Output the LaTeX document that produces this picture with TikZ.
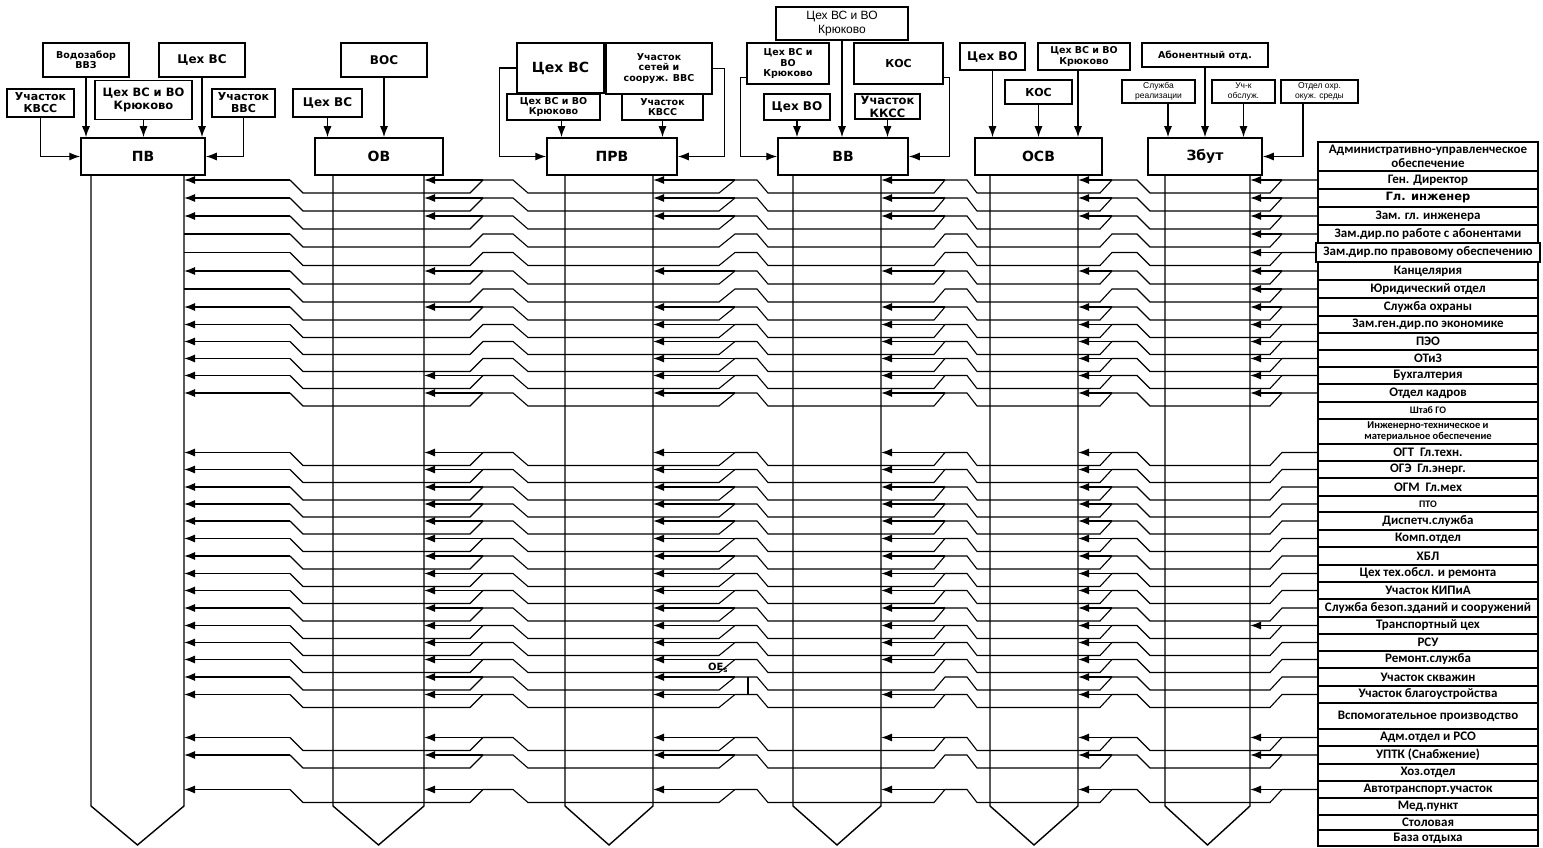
\documentclass[tikz,border=0pt]{standalone}
\usepackage{fontspec}
\setmainfont{DejaVu Sans}
\newfontfamily\listfont{Carlito}[UprightFont={Carlito}, BoldFont={Carlito Bold}]
\newfontfamily\arialfont{Liberation Sans}
\usetikzlibrary{arrows.meta}

\begin{document}
\begin{tikzpicture}[x=1pt, y=-1pt,
    box/.style={draw, line width=1.5pt, inner sep=0pt, align=center, font=\bfseries\fontsize{11}{12}\selectfont},
    small/.style={font=\bfseries\fontsize{9.5}{10.5}\selectfont},
    thin/.style={font=\arialfont\fontsize{8.5}{9.5}\selectfont},
    head/.style={box, minimum height=37pt, font=\bfseries\fontsize{14}{16}\selectfont},
    cell/.style={draw, line width=1.2pt, minimum width=220pt, inner sep=0pt, align=center, font=\listfont\bfseries\fontsize{13}{13.5}\selectfont},
    arr/.style={line width=1.3pt, -{Latex[length=11pt,width=8pt]}},
    wire/.style={line width=1.1pt},
    col/.style={line width=1.4pt}
]
\useasboundingbox (0,0) rectangle (1543,848);

% Main units
\node[head, minimum width=124pt] (pv) at (143,156.5) {ПВ};
\node[head, minimum width=128pt] (ov) at (379,156.5) {ОВ};
\node[head, minimum width=130pt] (prv) at (612,156.5) {ПРВ};
\node[head, minimum width=130pt] (vv) at (843,156.5) {ВВ};
\node[head, minimum width=127pt] (osv) at (1038.5,156.5) {ОСВ};
\node[head, minimum width=114pt] (zbut) at (1205,156.5) {Збут};

% Unit bodies
\draw[col] (91,175) -- (91,806) -- (137.5,845) -- (184,806) -- (184,175);
\draw[col] (333,175) -- (333,806) -- (378.5,845) -- (424,806) -- (424,175);
\draw[col] (565,175) -- (565,806) -- (609,845) -- (653,806) -- (653,175);
\draw[col] (793,175) -- (793,806) -- (837,845) -- (881,806) -- (881,175);
\draw[col] (990,175) -- (990,806) -- (1034,845) -- (1078,806) -- (1078,175);
\draw[col] (1165,175) -- (1165,806) -- (1207.5,845) -- (1250,806) -- (1250,175);

% ПВ
\node[box, small, minimum width=86pt, minimum height=34pt] (vzb) at (86,60) {Водозабор\\ВВЗ};
\node[box, minimum width=86pt, minimum height=34pt, font=\bfseries\fontsize{12}{13}\selectfont] (cvs1) at (202,60) {Цех ВС};
\node[box, minimum width=67pt, minimum height=28pt] (kvss1) at (40.5,103) {Участок\\КВСС};
\node[box, minimum width=97pt, minimum height=39pt, font=\bfseries\fontsize{11.5}{13}\selectfont] (kr1) at (143.5,100) {Цех ВС и ВО\\Крюково};
\node[box, minimum width=63pt, minimum height=28pt] (vvs1) at (243.5,103) {Участок\\ВВС};
\draw[arr] (vzb.south) -- (vzb.south |- pv.north);
\draw[arr] (cvs1.south) -- (cvs1.south |- pv.north);
\draw[arr] (kr1.south) -- (kr1.south |- pv.north);
\draw[arr] (kvss1.south) |- (pv.west);
\draw[arr] (vvs1.south) |- (pv.east);

% ОВ
\node[box, minimum width=69pt, minimum height=28pt, font=\bfseries\fontsize{12}{13}\selectfont] (cvs2) at (327.5,103) {Цех ВС};
\node[box, minimum width=86pt, minimum height=34pt, font=\bfseries\fontsize{12}{13}\selectfont] (vos) at (384,60) {ВОС};
\draw[arr] (cvs2.south) -- (cvs2.south |- ov.north);
\draw[arr] (vos.south) -- (vos.south |- ov.north);

% ПРВ
\node[box, minimum width=87pt, minimum height=50pt, font=\bfseries\fontsize{14}{16}\selectfont] (cvs3) at (560.5,68) {Цех ВС};
\node[box, small, minimum width=106pt, minimum height=51pt] (uss) at (659,68.5) {Участок\\сетей и\\сооруж. ВВС};
\node[box, small, minimum width=93pt, minimum height=26pt] (kr3) at (553.5,107) {Цех ВС и ВО\\Крюково};
\node[box, small, minimum width=81pt, minimum height=26pt] (kvss3) at (662.5,107) {Участок\\КВСС};
\draw[arr] ([xshift=8pt]kr3.south) -- ([xshift=8pt]kr3.south |- prv.north);
\draw[arr] (kvss3.south) -- (kvss3.south |- prv.north);
\draw[arr] (cvs3.west) -- ++(-17,0) |- (prv.west);
\draw[arr] (uss.east) -- ++(12,0) |- (prv.east);

% ВВ
\node[box, minimum width=132pt, minimum height=33pt, font=\arialfont\fontsize{12}{13.5}\selectfont] (kr4top) at (842,23.5) {Цех ВС и ВО\\Крюково};
\node[box, minimum width=82pt, minimum height=41pt, font=\bfseries\fontsize{9.5}{10.5}\selectfont] (kr4) at (788,63.5) {Цех ВС и\\ВО\\Крюково};
\node[box, minimum width=89pt, minimum height=41pt] (kos4) at (898.5,63.5) {КОС};
\node[box, minimum width=66pt, minimum height=26pt, font=\bfseries\fontsize{12}{13}\selectfont] (cvo4) at (797,107) {Цех ВО};
\node[box, minimum width=65pt, minimum height=25pt, font=\bfseries\fontsize{11.5}{13}\selectfont] (kkss4) at (887.5,106.5) {Участок\\ККСС};
\draw[arr] (kr4top.south) -- (kr4top.south |- vv.north);
\draw[arr] (cvo4.south) -- (cvo4.south |- vv.north);
\draw[arr] (kkss4.south) -- (kkss4.south |- vv.north);
\draw[arr] ([yshift=-14pt]kr4.west) -- ++(-6,0) |- (vv.west);
\draw[arr] ([yshift=-14pt]kos4.east) -- ++(6,0) |- (vv.east);

% ОСВ
\node[box, minimum width=65pt, minimum height=27pt, font=\bfseries\fontsize{12}{13}\selectfont] (cvo5) at (992.5,56.5) {Цех ВО};
\node[box, small, minimum width=92pt, minimum height=27pt] (kr5) at (1084,56.5) {Цех ВС и ВО\\Крюково};
\node[box, minimum width=67pt, minimum height=24pt] (kos5) at (1038.5,92) {КОС};
\draw[arr] (cvo5.south) -- (cvo5.south |- osv.north);
\draw[arr] (kos5.south) -- (kos5.south |- osv.north);
\draw[arr] ([xshift=-6pt]kr5.south) -- ([xshift=-6pt]kr5.south |- osv.north);

% Збут
\node[box, small, minimum width=126pt, minimum height=24pt] (abon) at (1205,55) {Абонентный отд.};
\node[box, thin, minimum width=73pt, minimum height=23pt] (sr) at (1158.5,91.5) {Служба\\реализации};
\node[box, thin, minimum width=63pt, minimum height=23pt] (uchk) at (1243.5,91.5) {Уч-к\\обслуж.};
\node[box, thin, minimum width=77pt, minimum height=23pt] (oos) at (1319.5,91.5) {Отдел охр.\\окуж. среды};
\draw[arr] ([xshift=9.5pt]sr.south) -- ([xshift=9.5pt]sr.south |- zbut.north);
\draw[arr] (abon.south) -- (abon.south |- zbut.north);
\draw[arr] (uchk.south) -- (uchk.south |- zbut.north);
\draw[arr] ([xshift=-16.5pt]oos.south) |- (zbut.east);

% List of services
\node[cell, minimum height=29pt] (r1) at (1428,156.5) {Административно-управленческое\\обеспечение};
\node[cell, minimum height=18pt] (r2) at (1428,180) {Ген. Директор};
\node[cell, minimum height=18pt, font=\bfseries\fontsize{11.5}{12}\selectfont] (r3) at (1428,198) {Гл. инженер};
\node[cell, minimum height=18pt] (r4) at (1428,216) {Зам. гл. инженера};
\node[cell, minimum height=18pt] (r5) at (1428,234) {Зам.дир.по работе с абонентами};
\node[cell, minimum height=19pt, minimum width=224pt] (r6) at (1428,252.5) {Зам.дир.по правовому обеспечению};
\node[cell, minimum height=18pt] (r7) at (1428,271) {Канцелярия};
\node[cell, minimum height=18pt] (r8) at (1428,289) {Юридический отдел};
\node[cell, minimum height=18pt] (r9) at (1428,307) {Служба охраны};
\node[cell, minimum height=17pt] (r10) at (1428,324.5) {Зам.ген.дир.по экономике};
\node[cell, minimum height=17pt] (r11) at (1428,341.5) {ПЭО};
\node[cell, minimum height=17pt] (r12) at (1428,358.5) {ОТиЗ};
\node[cell, minimum height=17pt] (r13) at (1428,375.5) {Бухгалтерия};
\node[cell, minimum height=18pt] (r14) at (1428,393) {Отдел кадров};
\node[cell, minimum height=17pt, font=\listfont\bfseries\fontsize{10}{11}\selectfont] (r15) at (1428,410.5) {Штаб ГО};
\node[cell, minimum height=25pt, font=\listfont\bfseries\fontsize{10.5}{11}\selectfont] (r16) at (1428,431.5) {Инженерно-техническое и\\материальное обеспечение};
\node[cell, minimum height=17pt] (r17) at (1428,452.5) {ОГТ\ \ Гл.техн.};
\node[cell, minimum height=17pt] (r18) at (1428,469.5) {ОГЭ\ \ Гл.энерг.};
\node[cell, minimum height=18pt] (r19) at (1428,487) {ОГМ\ \ Гл.мех};
\node[cell, minimum height=16pt, font=\listfont\bfseries\fontsize{10}{11}\selectfont] (r20) at (1428,504) {ПТО};
\node[cell, minimum height=18pt] (r21) at (1428,521) {Диспетч.служба};
\node[cell, minimum height=17pt] (r22) at (1428,538.5) {Комп.отдел};
\node[cell, minimum height=18pt] (r23) at (1428,556) {ХБЛ};
\node[cell, minimum height=17pt] (r24) at (1428,573.5) {Цех тех.обсл. и ремонта};
\node[cell, minimum height=17pt] (r25) at (1428,590.5) {Участок КИПиА};
\node[cell, minimum height=18pt] (r26) at (1428,608) {Служба безоп.зданий и сооружений};
\node[cell, minimum height=17pt] (r27) at (1428,625.5) {Транспортный цех};
\node[cell, minimum height=17pt] (r28) at (1428,642.5) {РСУ};
\node[cell, minimum height=17pt] (r29) at (1428,659.5) {Ремонт.служба};
\node[cell, minimum height=18pt] (r30) at (1428,677) {Участок скважин};
\node[cell, minimum height=17pt] (r31) at (1428,694.5) {Участок благоустройства};
\node[cell, minimum height=26pt] (r32) at (1428,716) {Вспомогательное производство};
\node[cell, minimum height=17pt] (r33) at (1428,737.5) {Адм.отдел и РСО};
\node[cell, minimum height=18pt] (r34) at (1428,755) {УПТК (Снабжение)};
\node[cell, minimum height=17pt] (r35) at (1428,772.5) {Хоз.отдел};
\node[cell, minimum height=17pt] (r36) at (1428,789.5) {Автотранспорт.участок};
\node[cell, minimum height=17pt] (r37) at (1428,806.5) {Мед.пункт};
\node[cell, minimum height=15pt] (r38) at (1428,822.5) {Столовая};
\node[cell, minimum height=16pt] (r39) at (1428,838) {База отдыха};

% Links: row / y / arrows into ПВ ОВ ПРВ ВВ ОСВ Збут
\foreach \rw/\yy/\ka/\kb/\kc/\kd/\ke/\kf in {
    r2/180/1/1/1/1/1/1, r3/198/1/1/1/1/1/1, r4/216/1/1/1/1/1/1,
    r5/234/0/0/0/0/0/1, r6/252.5/0/0/0/0/0/1, r7/271/1/1/1/1/1/1,
    r8/289/0/0/0/0/0/1, r9/307/1/1/1/1/1/1, r10/324.5/1/0/1/1/1/1,
    r11/341.5/1/0/1/1/1/1, r12/358.5/1/0/1/1/1/1, r13/375.5/1/1/1/1/1/1,
    r14/393/1/1/1/1/1/1, r17/452.5/1/1/1/1/1/0, r18/469.5/1/1/1/1/1/0,
    r19/487/1/1/1/1/1/0, r20/504/1/1/1/1/1/0, r21/521/1/1/1/1/1/0,
    r22/538.5/1/1/1/1/1/0, r23/556/1/1/1/1/1/0, r24/573.5/1/1/1/1/1/0,
    r25/590.5/1/1/1/1/1/0, r26/608/1/1/1/1/1/0, r27/625.5/1/1/1/1/1/1,
    r28/642.5/1/1/1/1/1/0, r29/659.5/1/1/1/1/1/0, r30/677/1/1/1/0/1/0,
    r31/694.5/1/1/1/1/1/0, r33/737.5/1/1/1/1/1/1, r34/755/1/1/1/0/1/1,
    r36/789.5/1/1/1/1/1/1}{
  \draw[wire] (\rw.west) -- (1282,\yy) -- (1270,\yy+13) -- (1150,\yy+13) -- (1137,\yy)
    -- (1112,\yy) -- (1100,\yy+13) -- (977,\yy+13) -- (967,\yy) -- (945,\yy)
    -- (934,\yy+13) -- (768,\yy+13) -- (757,\yy) -- (735,\yy) -- (719,\yy+13)
    -- (528,\yy+13) -- (513,\yy) -- (483,\yy) -- (470,\yy+13) -- (303,\yy+13) -- (290,\yy);
  \ifnum\ka=1 \draw[arr] (290,\yy) -- (184,\yy); \else \draw[wire] (290,\yy) -- (184,\yy); \fi
  \ifnum\kb=1 \draw[arr] (483,\yy) -- (424,\yy); \fi
  \ifnum\kc=1 \draw[arr] (735,\yy) -- (653,\yy); \fi
  \ifnum\kd=1 \draw[arr] (945,\yy) -- (881,\yy); \fi
  \ifnum\ke=1 \draw[arr] (1112,\yy) -- (1078,\yy); \fi
  \ifnum\kf=1 \draw[arr] (1282,\yy) -- (1250,\yy); \fi
}

% stray mark between ПРВ and ВВ
\draw[wire] (748,677) -- (748,694.5);
\node[font=\bfseries\fontsize{10}{10}\selectfont, inner sep=0pt] (oe) at (718,668) {ОЕ\textsubscript{s}};

\end{tikzpicture}
\end{document}
